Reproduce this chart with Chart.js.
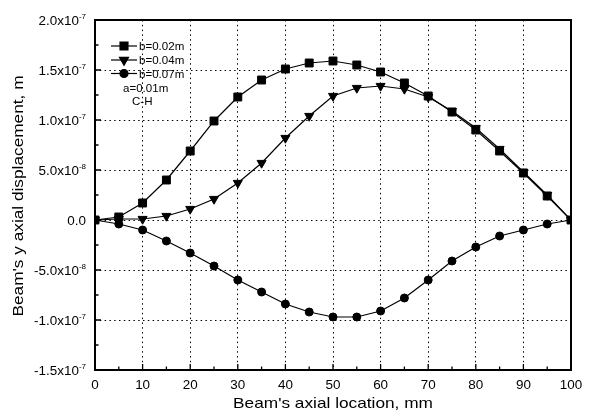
<!DOCTYPE html>
<html>
<head>
<meta charset="utf-8">
<script src="https://cdn.jsdelivr.net/npm/chart.js@4.4.0/dist/chart.umd.min.js"></script>
<style>
  html, body { margin: 0; padding: 0; background: #fff; }
  #wrap { width: 595px; height: 412px; }
</style>
</head>
<body>
<div id="wrap"><canvas id="chart" width="595" height="412"></canvas></div>
<script>
// Beam's axial location (mm)
const locations = [0, 5, 10, 15, 20, 25, 30, 35, 40, 45, 50, 55, 60, 65, 70, 75, 80, 85, 90, 95, 100];

// y axial displacement (m)
const dispB002 = [0, 0.3e-8, 1.7e-8, 4.0e-8, 6.9e-8, 9.9e-8, 12.3e-8, 14.0e-8, 15.1e-8, 15.7e-8, 15.9e-8,
  15.5e-8, 14.8e-8, 13.7e-8, 12.4e-8, 10.8e-8, 9.0e-8, 6.9e-8, 4.7e-8, 2.4e-8, 0];
const dispB004 = [0, 0.1e-8, 0.1e-8, 0.4e-8, 1.1e-8, 2.1e-8, 3.7e-8, 5.7e-8, 8.2e-8, 10.4e-8, 12.4e-8,
  13.2e-8, 13.4e-8, 13.1e-8, 12.3e-8, 10.9e-8, 9.2e-8, 7.1e-8, 4.8e-8, 2.5e-8, 0];
const dispB007 = [0, -0.4e-8, -1.0e-8, -2.1e-8, -3.3e-8, -4.6e-8, -6.0e-8, -7.2e-8, -8.4e-8, -9.2e-8, -9.7e-8,
  -9.7e-8, -9.1e-8, -7.8e-8, -6.0e-8, -4.1e-8, -2.7e-8, -1.6e-8, -1.0e-8, -0.4e-8, 0];

const seriesLabels = ["b=0.02m", "b=0.04m", "b=0.07m"];
const legendNotes = ["a=0.01m", "C-H"];

// axis ticks
const xTicks = [0, 10, 20, 30, 40, 50, 60, 70, 80, 90, 100];
const xTickLabels = ["0", "10", "20", "30", "40", "50", "60", "70", "80", "90", "100"];
const xMinorTicks = [5, 15, 25, 35, 45, 55, 65, 75, 85, 95];
const yTicks = [2.0e-7, 1.5e-7, 1.0e-7, 5.0e-8, 0, -5.0e-8, -1.0e-7, -1.5e-7];
const yTickMantissa = ["2.0x10", "1.5x10", "1.0x10", "5.0x10", "0.0", "-5.0x10", "-1.0x10", "-1.5x10"];
const yTickExponent = ["-7", "-7", "-7", "-8", "", "-8", "-7", "-7"];
const yMinorTicks = [1.75e-7, 1.25e-7, 0.75e-7, 2.5e-8, -2.5e-8, -0.75e-7, -1.25e-7];

const xTitle = "Beam's axial location, mm";
const yTitle = "Beam's y axial displacement, m";

const FONT = '"Liberation Sans", Arial, sans-serif';

function drawText(ctx, s, x, y, size, align, stretch) {
  ctx.save();
  ctx.font = size + "px " + FONT;
  ctx.textBaseline = "alphabetic";
  ctx.translate(x, y);
  ctx.scale(stretch, 1);
  const w = ctx.measureText(s).width;
  const dx = align === "center" ? -w / 2 : align === "right" ? -w : 0;
  ctx.fillText(s, dx, 0);
  ctx.restore();
  return w * stretch;
}

const markerStyles = [
  { pointStyle: "rect", radius: 5.6, rotation: 0 },
  { pointStyle: "triangle", radius: 5.2, rotation: 180 },
  { pointStyle: "circle", radius: 4, rotation: 0 },
];

// frame, inward ticks, tick labels, titles and legend
const framePlugin = {
  id: "frame",
  afterDraw(chart) {
    const ctx = chart.ctx;
    const { left, right, top, bottom } = chart.chartArea;
    const xs = chart.scales.x;
    const ys = chart.scales.y;
    ctx.save();
    ctx.fillStyle = "#000";
    ctx.strokeStyle = "#000";

    // ticks
    ctx.lineWidth = 1.3;
    ctx.beginPath();
    xTicks.forEach((v) => {
      const px = xs.getPixelForValue(v);
      ctx.moveTo(px, bottom); ctx.lineTo(px, bottom - 6);
    });
    xMinorTicks.forEach((v) => {
      const px = xs.getPixelForValue(v);
      ctx.moveTo(px, bottom); ctx.lineTo(px, bottom - 3.5);
    });
    yTicks.forEach((v) => {
      const py = ys.getPixelForValue(v);
      ctx.moveTo(left, py); ctx.lineTo(left + 6, py);
    });
    yMinorTicks.forEach((v) => {
      const py = ys.getPixelForValue(v);
      ctx.moveTo(left, py); ctx.lineTo(left + 3.5, py);
    });
    ctx.stroke();

    // frame
    ctx.lineWidth = 2;
    ctx.strokeRect(left, top, right - left, bottom - top);

    // x tick labels
    xTicks.forEach((v, i) => {
      drawText(ctx, xTickLabels[i], xs.getPixelForValue(v), bottom + 19, 12, "center", 1.12);
    });

    // y tick labels with superscript exponent
    const labelRight = left - 9;
    yTicks.forEach((v, i) => {
      const py = ys.getPixelForValue(v);
      let supW = 0;
      if (yTickExponent[i]) {
        ctx.font = "8px " + FONT;
        supW = ctx.measureText(yTickExponent[i]).width;
        drawText(ctx, yTickExponent[i], labelRight - supW, py - 1, 8, "left", 1);
      }
      drawText(ctx, yTickMantissa[i], labelRight - supW, py + 4.5, 12, "right", 1.12);
    });

    // axis titles
    drawText(ctx, xTitle, (left + right) / 2, bottom + 38, 15, "center", 1.15);
    ctx.save();
    ctx.translate(23, 196);
    ctx.rotate(-Math.PI / 2);
    drawText(ctx, yTitle, 0, 0, 15, "center", 1.15);
    ctx.restore();

    // legend
    const rows = [46, 60, 73.5];
    rows.forEach((ly, i) => {
      ctx.lineWidth = 1.2;
      ctx.beginPath();
      ctx.moveTo(111, ly); ctx.lineTo(137, ly);
      ctx.stroke();
      const m = markerStyles[i];
      Chart.helpers.drawPoint(ctx, { pointStyle: m.pointStyle, radius: m.radius, rotation: m.rotation, borderWidth: 1 }, 124, ly);
      drawText(ctx, seriesLabels[i], 139, ly + 4, 11, "left", 1.05);
    });
    drawText(ctx, legendNotes[0], 123, 91.5, 11, "left", 1.05);
    drawText(ctx, legendNotes[1], 132, 105, 11, "left", 1.05);

    ctx.restore();
  },
};

const seriesData = [dispB002, dispB004, dispB007];

new Chart(document.getElementById("chart"), {
  type: "line",
  data: {
    datasets: seriesData.map((vals, i) => ({
      label: seriesLabels[i],
      data: locations.map((x, j) => ({ x: x, y: vals[j] })),
      borderColor: "#000",
      borderWidth: 1.2,
      backgroundColor: "#000",
      pointBackgroundColor: "#000",
      pointBorderColor: "#000",
      pointBorderWidth: 1,
      pointStyle: markerStyles[i].pointStyle,
      pointRadius: markerStyles[i].radius,
      pointRotation: markerStyles[i].rotation,
      tension: 0,
      fill: false,
    })),
  },
  options: {
    responsive: false,
    animation: false,
    devicePixelRatio: 1,
    layout: { padding: { left: 95, right: 24, top: 20, bottom: 42 } },
    plugins: {
      legend: { display: false },
      tooltip: { enabled: false },
    },
    scales: {
      x: {
        type: "linear",
        min: 0,
        max: 100,
        afterBuildTicks: (s) => { s.ticks = xTicks.map((v) => ({ value: v })); },
        ticks: { display: false },
        grid: { color: "#000", lineWidth: 1, drawTicks: false },
        border: { display: false, dash: [1.5, 3.3] },
      },
      y: {
        type: "linear",
        min: -1.5e-7,
        max: 2.0e-7,
        afterBuildTicks: (s) => { s.ticks = yTicks.map((v) => ({ value: v })); },
        ticks: { display: false },
        grid: { color: "#000", lineWidth: 1, drawTicks: false },
        border: { display: false, dash: [1.5, 3.3] },
      },
    },
  },
  plugins: [framePlugin],
});
</script>
</body>
</html>
